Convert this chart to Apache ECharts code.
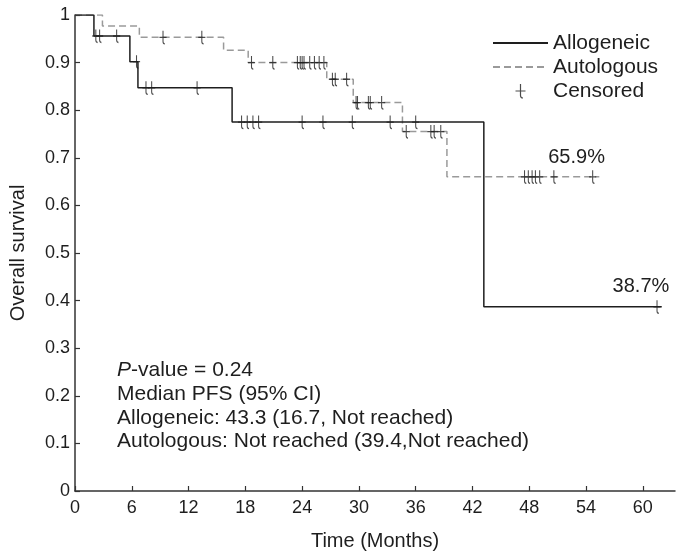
<!DOCTYPE html>
<html>
<head>
<meta charset="utf-8">
<script src="https://cdn.jsdelivr.net/npm/echarts@6/dist/echarts.min.js"></script>
<style>
html,body{margin:0;padding:0;background:#fff;}
#chart{width:682px;height:559px;}
</style>
</head>
<body>
<div id="chart"></div>
<script>
// ---- data ----
const xTicks = [0, 6, 12, 18, 24, 30, 36, 42, 48, 54, 60];
const yTicks = [0, 0.1, 0.2, 0.3, 0.4, 0.5, 0.6, 0.7, 0.8, 0.9, 1];

const allogeneicTimes = [0, 2.0, 5.8, 6.65, 16.6, 43.2, 62.0];
const allogeneicSurv  = [1, 0.956, 0.902, 0.847, 0.775, 0.387, 0.387];
const autologousTimes = [0, 2.9, 6.8, 15.7, 18.3, 26.6, 29.4, 34.6, 39.3, 55.4];
const autologousSurv  = [1, 0.977, 0.953, 0.926, 0.900, 0.865, 0.816, 0.755, 0.660, 0.660];

const allogeneicCensored = [2.2, 2.6, 4.4, 6.5, 7.5, 8.1, 12.9, 17.6, 18.2, 18.8, 19.4, 24.0, 26.2, 29.3, 33.3, 36.0, 61.5];
const autologousCensored = [9.3, 13.4, 18.65, 20.9, 23.5, 23.8, 24.0, 24.2, 24.8, 25.3, 25.8, 26.3,
  27.2, 27.5, 28.7, 29.7, 29.85, 31.0, 31.2, 32.4, 35.0, 37.6, 37.95, 38.65,
  47.5, 47.9, 48.3, 48.65, 49.1, 50.6, 54.7];

const endLabels = [
  { name: 'Autologous', text: '65.9%', t: 53.0, v: 0.659 },
  { name: 'Allogeneic', text: '38.7%', t: 59.8, v: 0.387 }
];
const annotationLines = ['P-value = 0.24', 'Median PFS (95% CI)', 'Allogeneic: 43.3 (16.7, Not reached)', 'Autologous: Not reached (39.4,Not reached)'];

// ---- helpers ----
function stepPoints(times, surv) { return times.map((t, i) => [t, surv[i]]); }
function survAt(times, surv, t) {
  let s = surv[0];
  for (let i = 0; i < times.length; i++) { if (times[i] <= t) s = surv[i]; }
  return s;
}
const censorPath = 'path://M6,0 L6,11.5 Q6,14 8.5,14 M1,7 L11,7';
const FONT = '"Liberation Sans", Arial, Helvetica, sans-serif';
const INK = '#1e1e1e';

const chart = echarts.init(document.getElementById('chart'));
const annoText = annotationLines.map((l, i) => i === 0 ? '{i|P}{n|' + l.slice(1) + '}' : '{n|' + l + '}').join('\n');

function endLabelMark(name) {
  return {
    symbol: 'circle', symbolSize: 1, silent: true,
    itemStyle: { color: 'rgba(0,0,0,0)' },
    data: endLabels.filter(d => d.name === name).map(d => ({ coord: [d.t, d.v], value: d.text })),
    label: { show: true, position: 'inside', formatter: p => p.value, fontSize: 20, color: INK, offset: [0, -20], fontFamily: FONT }
  };
}

chart.setOption({
  animation: false,
  backgroundColor: '#fff',
  textStyle: { fontFamily: FONT },
  grid: { left: 68, top: 15, right: 7, bottom: 68, containLabel: false },
  xAxis: {
    type: 'value', min: 0, max: 63.4, interval: 6,
    name: 'Time (Months)', nameLocation: 'middle', nameGap: 40,
    nameTextStyle: { fontSize: 20, color: INK, fontFamily: FONT },
    axisLine: { show: true, lineStyle: { color: '#333', width: 1.5 } },
    axisTick: { show: true, inside: true, length: 5, customValues: xTicks, lineStyle: { color: '#333', width: 1.2 } },
    axisLabel: { customValues: xTicks, fontSize: 18, color: INK, margin: 8, fontFamily: FONT },
    splitLine: { show: false }
  },
  yAxis: {
    type: 'value', min: 0, max: 1, interval: 0.1,
    name: 'Overall survival', nameLocation: 'middle', nameGap: 47,
    nameTextStyle: { fontSize: 20, color: INK, fontFamily: FONT },
    axisLine: { show: true, lineStyle: { color: '#333', width: 1.5 } },
    axisTick: { show: true, inside: true, length: 5, lineStyle: { color: '#333', width: 1.2 } },
    axisLabel: { fontSize: 18, color: INK, margin: 5, fontFamily: FONT },
    splitLine: { show: false }
  },
  legend: {
    orient: 'vertical', left: 487, top: 27, itemWidth: 55, itemHeight: 14, itemGap: 2,
    textStyle: { fontSize: 21, color: INK, lineHeight: 22, fontFamily: FONT },
    data: [
      { name: 'Allogeneic', itemStyle: { opacity: 0 } },
      { name: 'Autologous', itemStyle: { opacity: 0 } },
      { name: 'Censored', icon: censorPath, itemStyle: { color: 'none', borderColor: INK, borderWidth: 1.2 } }
    ]
  },
  graphic: [{
    type: 'text', left: 117, top: 360,
    style: {
      text: annoText,
      rich: {
        i: { fontSize: 21, fontStyle: 'italic', fill: INK, fontFamily: FONT, lineHeight: 23.7 },
        n: { fontSize: 21, fill: INK, fontFamily: FONT, lineHeight: 23.7 }
      }
    }
  }],
  series: [
    {
      name: 'Allogeneic', type: 'line', step: 'end', symbol: 'none', z: 3,
      data: stepPoints(allogeneicTimes, allogeneicSurv),
      lineStyle: { color: INK, width: 1.5 },
      itemStyle: { color: INK },
      markPoint: endLabelMark('Allogeneic')
    },
    {
      name: 'Autologous', type: 'line', step: 'end', symbol: 'none', z: 2,
      data: stepPoints(autologousTimes, autologousSurv),
      lineStyle: { color: '#9a9a9a', width: 1.5, type: [7, 4] },
      itemStyle: { color: '#9a9a9a' },
      markPoint: endLabelMark('Autologous')
    },
    {
      name: 'Censored', type: 'scatter', symbol: censorPath, symbolSize: [10, 13], symbolKeepAspect: true, z: 4,
      data: allogeneicCensored.map(t => [t, survAt(allogeneicTimes, allogeneicSurv, t)]),
      itemStyle: { color: 'none', borderColor: INK, borderWidth: 1.2 }
    },
    {
      name: 'Censored', type: 'scatter', symbol: censorPath, symbolSize: [10, 13], symbolKeepAspect: true, z: 4,
      data: autologousCensored.map(t => [t, survAt(autologousTimes, autologousSurv, t)]),
      itemStyle: { color: 'none', borderColor: INK, borderWidth: 1.2 }
    }
  ]
});
</script>
</body>
</html>
